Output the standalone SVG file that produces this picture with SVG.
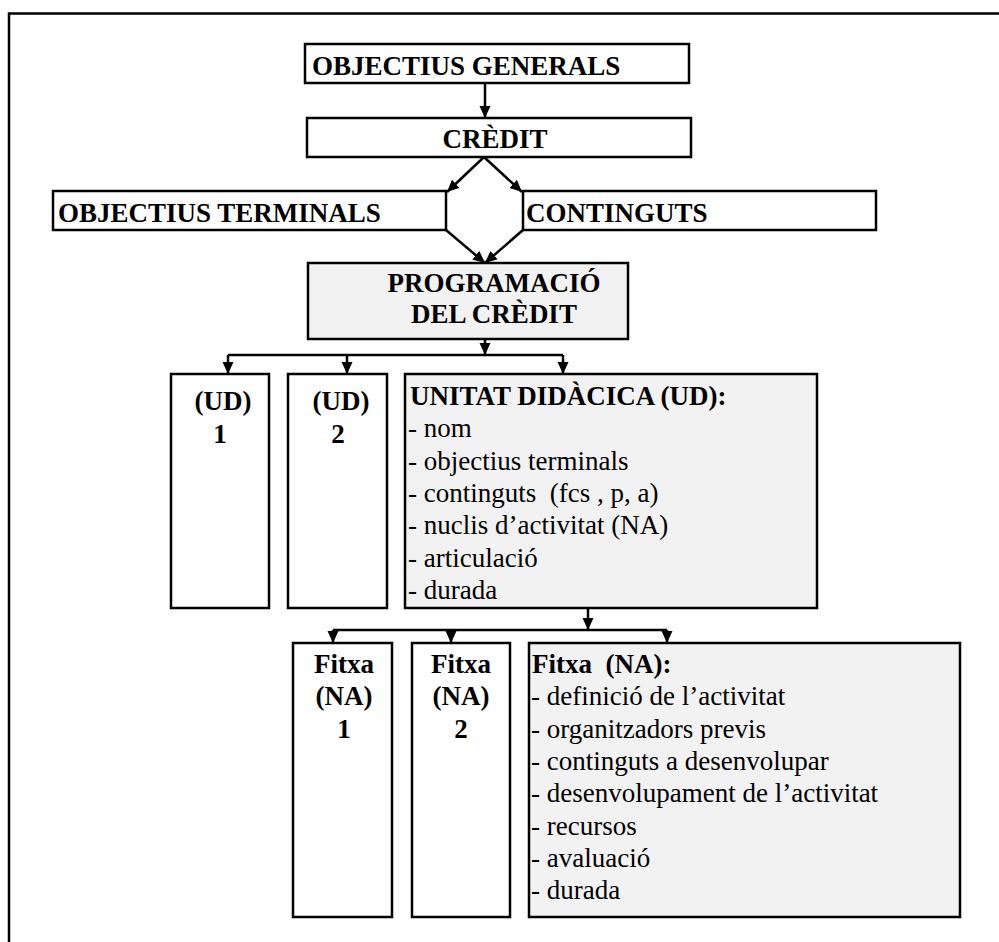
<svg xmlns="http://www.w3.org/2000/svg" width="999" height="942" viewBox="0 0 999 942">
<defs>
<marker id="ah" markerUnits="userSpaceOnUse" markerWidth="13" markerHeight="12" refX="12" refY="6" orient="auto"><path d="M0,0.5 L12,6 L0,11.5 z" fill="#000"/></marker>
<style>
.box{fill:#fff;stroke:#000;stroke-width:2.5}
.gbox{fill:#f2f2f2;stroke:#000;stroke-width:2.5}
.c{fill:none;stroke:#000;stroke-width:2.5}
.a{fill:none;stroke:#000;stroke-width:2.5;marker-end:url(#ah)}
text{font-family:"Liberation Serif","Times New Roman",serif;font-size:27px;fill:#000;white-space:pre}
.b{font-weight:bold}
.m{text-anchor:middle}
</style>
</defs>
<rect x="0" y="0" width="999" height="942" fill="#fff"/>
<path d="M9,942 L9,13.5 L999,13.5" fill="none" stroke="#000" stroke-width="2.5"/>

<g id="objectius-generals"><rect class="box" x="305" y="44" width="384" height="39"/><text class="b" x="312" y="75">OBJECTIUS GENERALS</text></g>
<g id="credit"><rect class="box" x="307" y="118" width="384" height="39"/><text class="b m" x="495" y="148">CRÈDIT</text></g>
<g id="objectius-terminals"><rect class="box" x="53" y="191" width="393" height="39"/><text class="b" x="58" y="222">OBJECTIUS TERMINALS</text></g>
<g id="continguts"><rect class="box" x="523" y="191" width="353" height="39"/><text class="b" x="526" y="222">CONTINGUTS</text></g>
<g id="programacio"><rect class="gbox" x="308" y="263" width="320" height="76"/><text class="b m" x="494" y="292">PROGRAMACIÓ</text><text class="b m" x="494" y="323">DEL CRÈDIT</text></g>
<g id="ud1"><rect class="box" x="171" y="374" width="98" height="234"/><text class="b m" x="223" y="410">(UD)</text><text class="b m" x="220" y="443">1</text></g>
<g id="ud2"><rect class="box" x="288" y="374" width="99" height="234"/><text class="b m" x="341" y="410">(UD)</text><text class="b m" x="338" y="443">2</text></g>
<g id="ud"><rect class="gbox" x="405" y="374" width="412" height="234"/>
<text class="b" x="410" y="405">UNITAT DIDÀCICA (UD):</text>
<text x="408" y="437">- nom</text>
<text x="408" y="470">- objectius terminals</text>
<text x="408" y="502" xml:space="preserve">- continguts  (fcs , p, a)</text>
<text x="408" y="534">- nuclis d’activitat (NA)</text>
<text x="408" y="567">- articulació</text>
<text x="408" y="599">- durada</text>
</g>
<g id="fitxa1"><rect class="box" x="293" y="643" width="99" height="274"/><text class="b m" x="344" y="673">Fitxa</text><text class="b m" x="344" y="705">(NA)</text><text class="b m" x="344" y="738">1</text></g>
<g id="fitxa2"><rect class="box" x="412" y="643" width="98" height="274"/><text class="b m" x="461" y="673">Fitxa</text><text class="b m" x="461" y="705">(NA)</text><text class="b m" x="461" y="738">2</text></g>
<g id="fitxa"><rect class="gbox" x="529" y="643" width="431" height="274"/>
<text class="b" x="532" y="673" xml:space="preserve">Fitxa  (NA):</text>
<text x="531" y="705">- definició de l’activitat</text>
<text x="531" y="738">- organitzadors previs</text>
<text x="531" y="770">- continguts a desenvolupar</text>
<text x="531" y="802">- desenvolupament de l’activitat</text>
<text x="531" y="835">- recursos</text>
<text x="531" y="867">- avaluació</text>
<text x="531" y="899">- durada</text>
</g>

<g id="connectors">
<line class="a" x1="485" y1="83" x2="485" y2="118"/>
<line class="a" x1="484" y1="157" x2="447" y2="192"/>
<line class="a" x1="484" y1="157" x2="522" y2="192"/>
<line class="a" x1="446" y1="230" x2="485" y2="263"/>
<line class="a" x1="523" y1="230" x2="485" y2="263"/>
<line class="a" x1="485" y1="339" x2="485" y2="355"/>
<line class="c" x1="228" y1="355" x2="563" y2="355"/>
<line class="a" x1="228" y1="355" x2="228" y2="374"/>
<line class="a" x1="347" y1="355" x2="347" y2="374"/>
<line class="a" x1="563" y1="355" x2="563" y2="374"/>
<line class="a" x1="588" y1="608" x2="588" y2="630"/>
<line class="c" x1="333" y1="630" x2="667" y2="630"/>
<line class="a" x1="333" y1="630" x2="333" y2="643"/>
<line class="a" x1="451" y1="630" x2="451" y2="643"/>
<line class="a" x1="667" y1="630" x2="667" y2="643"/>
</g>
</svg>
